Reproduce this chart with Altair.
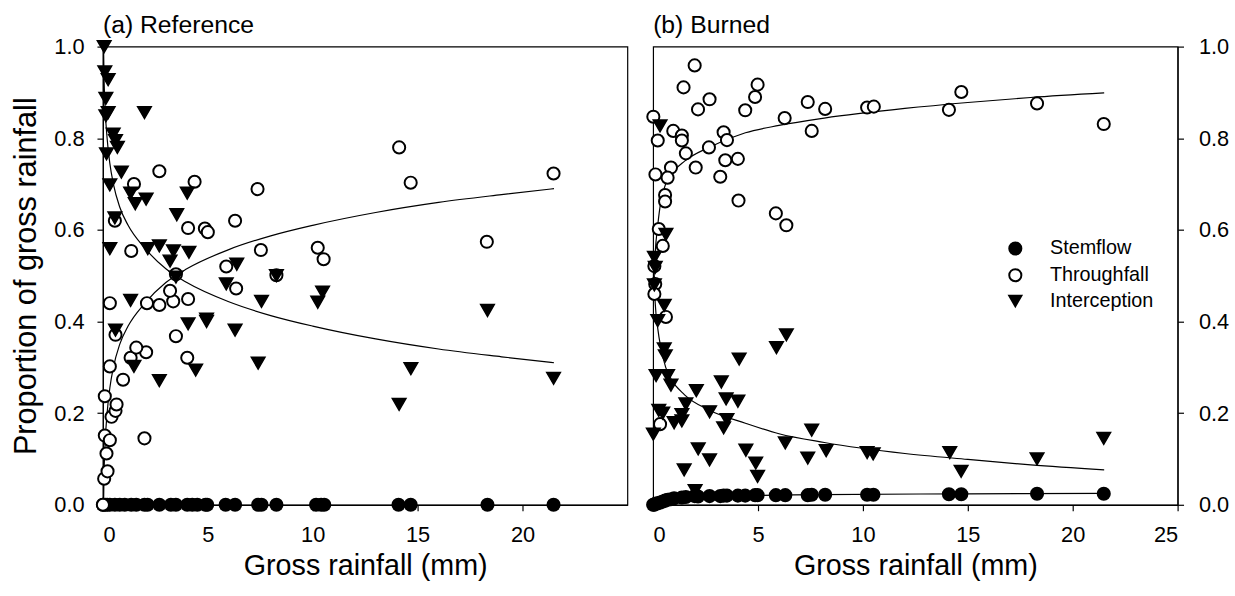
import altair as alt
import pandas as pd

FONT = "Liberation Sans"

# ---------------- Reference panel data ----------------
ref_tf_x = [0.0, 0.06, 0.22, 0.17, 0.09, 0.33, 1.98, 0.41, 0.6, 0.65, 0.09, 0.96, 0.33, 1.32, 4.02, 2.06, 1.59,
            3.48, 0.6, 0.33, 2.1, 2.69, 3.35, 4.06, 3.2, 6.35, 3.48, 8.27, 5.88, 10.52, 1.35, 7.53, 10.24, 18.3,
            4.06, 4.86, 5.0, 0.57, 6.3, 7.37, 1.48, 4.37, 14.67, 21.48, 2.69, 14.12]
ref_tf_y = [0.0, 0.057, 0.073, 0.112, 0.151, 0.141, 0.145, 0.192, 0.205, 0.219, 0.237, 0.273, 0.302, 0.321, 0.321,
            0.333, 0.343, 0.368, 0.371, 0.44, 0.44, 0.436, 0.444, 0.449, 0.467, 0.472, 0.503, 0.501, 0.52, 0.536,
            0.554, 0.556, 0.561, 0.574, 0.604, 0.603, 0.595, 0.62, 0.62, 0.689, 0.70, 0.705, 0.703, 0.723, 0.728, 0.78]

ref_ic_x = [0.06, 0.09, 0.25, 0.14, 0.25, 0.14, 1.98, 0.49, 0.6, 0.69, 0.17, 0.88, 0.33, 1.32, 4.02, 2.06, 1.54,
            3.52, 0.57, 0.33, 2.14, 2.69, 3.36, 4.1, 3.2, 6.38, 3.48, 8.27, 5.88, 10.47, 1.32, 7.56, 10.24, 18.33,
            4.06, 4.94, 4.94, 0.6, 6.3, 7.4, 1.48, 4.42, 14.68, 21.48, 2.69, 14.12]
ref_ic_y = [1.0, 0.945, 0.928, 0.887, 0.856, 0.849, 0.856, 0.809, 0.795, 0.78, 0.766, 0.726, 0.698, 0.68, 0.68,
            0.667, 0.657, 0.633, 0.626, 0.559, 0.559, 0.565, 0.554, 0.551, 0.532, 0.525, 0.497, 0.50, 0.482, 0.464,
            0.446, 0.444, 0.442, 0.424, 0.395, 0.40, 0.405, 0.381, 0.381, 0.309, 0.302, 0.294, 0.297, 0.276, 0.271,
            0.219]

ref_sf_x = [0.0, 0.1, 0.2, 0.33, 0.57, 0.8, 1.04, 1.35, 1.59, 1.98, 2.13, 2.69, 3.24, 3.48, 4.02, 4.26, 4.5, 4.89,
            4.97, 5.85, 6.3, 7.4, 7.56, 8.27, 10.16, 10.4, 10.55, 14.09, 14.67, 18.33, 21.48]
ref_sf_y = [0.0] * len(ref_sf_x)

# fitted curves
ref_fit_x = [0.03, 0.05, 0.1, 0.2, 0.33, 0.5, 0.8, 1.2, 2, 3, 4, 6, 8, 10, 13, 16, 19, 21.5]
ref_fit_tf = [0.0, 0.06, 0.13, 0.2, 0.255, 0.30, 0.35, 0.39, 0.44, 0.485, 0.515, 0.557, 0.587, 0.61, 0.638, 0.66,
              0.677, 0.69]
ref_fit_ic = [1.0, 0.94, 0.87, 0.80, 0.745, 0.70, 0.65, 0.61, 0.56, 0.515, 0.485, 0.443, 0.413, 0.39, 0.362, 0.34,
              0.323, 0.31]

# ---------------- Burned panel data ----------------
bur_tf_x = [1.98, 1.45, 4.98, 4.86, 2.69, 2.14, 4.39, 7.37, 0.01, 6.27, 7.56, 8.2, 0.96, 1.37, 1.37, 0.22, 3.36,
            3.52, 1.56, 2.66, 3.44, 4.04, 2.03, 0.85, 0.11, 0.69, 3.2, 0.57, 0.57, 4.07, 5.85, 6.35, 0.27, 0.46,
            0.06, 0.1, 0.06, 0.61, 0.33, 14.1, 14.69, 18.3, 21.48, 10.2, 10.52]
bur_tf_y = [0.959, 0.911, 0.917, 0.89, 0.885, 0.863, 0.861, 0.879, 0.847, 0.844, 0.816, 0.864, 0.816, 0.806, 0.795,
            0.795, 0.813, 0.796, 0.767, 0.78, 0.752, 0.755, 0.736, 0.736, 0.721, 0.714, 0.716, 0.676, 0.662, 0.664,
            0.636, 0.61, 0.602, 0.565, 0.521, 0.482, 0.46, 0.41, 0.176, 0.862, 0.901, 0.876, 0.831, 0.867, 0.869]

bur_ic_x = [0.33, 0.61, 0.06, 0.1, 0.06, 0.53, 0.22, 6.35, 5.88, 0.53, 0.58, 4.1, 0.14, 0.69, 0.85, 3.25, 2.06,
            3.48, 4.04, 1.56, 0.27, 0.46, 1.37, 2.69, 3.52, 1.0, 1.37, 3.36, 0.01, 7.56, 6.3, 2.15, 4.42, 2.69,
            7.37, 4.89, 4.98, 1.48, 2.0, 8.25, 10.2, 10.49, 14.14, 14.68, 18.3, 21.48]
bur_ic_y = [0.827, 0.59, 0.54, 0.518, 0.48, 0.435, 0.402, 0.371, 0.343, 0.34, 0.325, 0.318, 0.282, 0.282, 0.261,
            0.268, 0.249, 0.231, 0.226, 0.22, 0.206, 0.2, 0.197, 0.203, 0.186, 0.179, 0.183, 0.168, 0.154, 0.163,
            0.135, 0.122, 0.119, 0.098, 0.102, 0.091, 0.062, 0.076, 0.031, 0.118, 0.114, 0.111, 0.114, 0.073, 0.1,
            0.145]

bur_sf_x = [0.0, 0.05, 0.1, 0.2, 0.33, 0.46, 0.57, 0.69, 0.85, 1.0, 1.37, 1.56, 1.98, 2.14, 2.69, 3.2, 3.36, 3.52,
            4.04, 4.39, 4.86, 4.98, 5.85, 6.3, 7.37, 7.56, 8.2, 10.2, 10.5, 14.1, 14.69, 18.3, 21.48]
bur_sf_y = [0.0, 0.0, 0.002, 0.003, 0.005, 0.007, 0.009, 0.011, 0.012, 0.014, 0.016, 0.017, 0.019, 0.018, 0.019,
            0.019, 0.02, 0.02, 0.02, 0.02, 0.021, 0.021, 0.021, 0.021, 0.021, 0.022, 0.022, 0.022, 0.022, 0.023,
            0.023, 0.024, 0.024]

bur_fit_x = [0.04, 0.1, 0.22, 0.38, 0.6, 0.85, 1.5, 2.66, 4.4, 6, 8.16, 12, 15, 18, 21.5]
bur_fit_tf = [0.49, 0.55, 0.61, 0.665, 0.70, 0.72, 0.75, 0.78, 0.812, 0.828, 0.844, 0.865, 0.878, 0.889, 0.899]
bur_fit_ic = [0.50, 0.44, 0.385, 0.34, 0.30, 0.275, 0.24, 0.207, 0.178, 0.155, 0.136, 0.112, 0.099, 0.087, 0.076]
bur_sf_fit_x = [0.03, 0.2, 0.5, 1, 2, 4, 8, 15, 21.5]
bur_sf_fit_y = [0.0, 0.005, 0.009, 0.014, 0.018, 0.02, 0.022, 0.024, 0.025]

series_names = ["Stemflow", "Throughfall", "Interception"]


def pts(panel, series, xs, ys):
    return pd.DataFrame({"panel": panel, "series": series, "x": xs, "y": ys})


points = pd.concat([
    pts("ref", "Stemflow", ref_sf_x, ref_sf_y),
    pts("ref", "Throughfall", ref_tf_x, ref_tf_y),
    pts("ref", "Interception", ref_ic_x, ref_ic_y),
    pts("bur", "Stemflow", bur_sf_x, bur_sf_y),
    pts("bur", "Throughfall", bur_tf_x, bur_tf_y),
    pts("bur", "Interception", bur_ic_x, bur_ic_y),
], ignore_index=True)

lines = pd.concat([
    pts("ref", "tf", ref_fit_x, ref_fit_tf),
    pts("ref", "ic", ref_fit_x, ref_fit_ic),
    pts("bur", "tf", bur_fit_x, bur_fit_tf),
    pts("bur", "ic", bur_fit_x, bur_fit_ic),
    pts("bur", "sf", bur_sf_fit_x, bur_sf_fit_y),
], ignore_index=True).rename(columns={"series": "curve"})

W, H = 530, 463


def panel(key, title, y_orient, x_ticks, show_legend):
    x_enc = alt.X("x:Q", scale=alt.Scale(domain=[0, 25], nice=False, zero=False),
                  axis=alt.Axis(values=x_ticks, title="Gross rainfall (mm)", titlePadding=6, labelPadding=14,
                                titleFontSize=29))
    y_axis = alt.Axis(values=[0, 0.2, 0.4, 0.6, 0.8, 1.0], format=".1f", orient=y_orient,
                      title="Proportion of gross rainfall" if y_orient == "left" else None,
                      titlePadding=12, labelPadding=15 if y_orient == "right" else 13, titleFontSize=31)
    y_enc = alt.Y("y:Q", scale=alt.Scale(domain=[0, 1], nice=False), axis=y_axis)

    line_layer = alt.Chart(lines).transform_filter(alt.datum.panel == key).mark_line(
        color="black", strokeWidth=1.2, interpolate="monotone"
    ).encode(x=x_enc, y=y_enc, detail="curve:N")

    shape_scale = alt.Scale(domain=series_names, range=["circle", "circle", "triangle-down"])
    fill_scale = alt.Scale(domain=series_names, range=["black", "white", "black"])
    stroke_scale = alt.Scale(domain=series_names, range=["black", "black", "black"])
    if show_legend:
        leg = alt.Legend(title=None, orient="none", legendX=356, legendY=194, labelFont=FONT, labelFontSize=20,
                         labelColor="black", symbolStrokeWidth=2, symbolSize=150,
                         symbolOpacity=1, rowPadding=5, labelOffset=25, padding=0)
    else:
        leg = None

    def enc(chart):
        return chart.encode(
            x=x_enc, y=y_enc,
            shape=alt.Shape("series:N", scale=shape_scale, legend=leg),
            fill=alt.Fill("series:N", scale=fill_scale, legend=leg),
            stroke=alt.Stroke("series:N", scale=stroke_scale, legend=leg),
        )

    base = alt.Chart(points).transform_filter(alt.datum.panel == key)
    circles = enc(base.transform_filter(alt.datum.series != "Interception").mark_point(
        strokeWidth=2, opacity=1, fillOpacity=1, size=150))
    triangles = enc(base.transform_filter(alt.datum.series == "Interception").mark_point(
        strokeWidth=1.5, opacity=1, fillOpacity=1, size=190))

    return alt.layer(line_layer, circles, triangles).properties(
        width=W, height=H,
        title=alt.TitleParams(title, anchor="start", frame="group", font=FONT, fontSize=25,
                              fontWeight="normal", color="black", offset=-2),
    )


left = panel("ref", "(a) Reference", "left", [0, 5, 10, 15, 20], False)
right = panel("bur", "(b) Burned", "right", [0, 5, 10, 15, 20, 25], True)

chart = alt.hconcat(left, right, spacing=14).resolve_scale(
    shape="shared", fill="shared", stroke="shared"
).resolve_legend(
    shape="independent", fill="independent", stroke="independent"
).configure(
    background="white", padding={"left": 9, "top": 9, "right": 5, "bottom": 5}
).configure_view(
    stroke="black", strokeWidth=1.2
).configure_axis(
    grid=False, domainColor="black", domainWidth=1.2, tickColor="black", tickWidth=1.2, tickSize=6,
    labelFont=FONT, labelFontSize=22, labelColor="black",
    titleFont=FONT, titleFontWeight="normal", titleColor="black",
)

chart.save("out.html", embed_options={"renderer": "svg", "actions": False})
